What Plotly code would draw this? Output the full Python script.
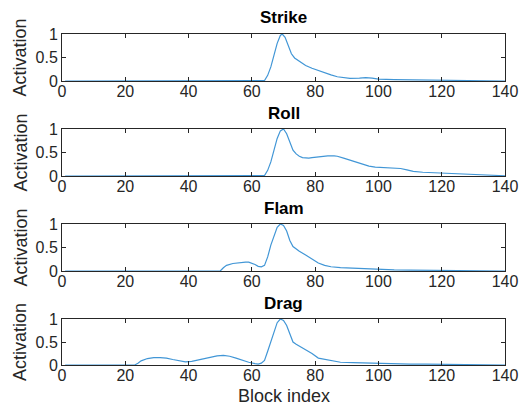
import plotly.graph_objects as go

titles = ["Strike", "Roll", "Flam", "Drag"]

strike_x = [1, 63, 64, 65, 66, 67, 68, 69, 69.6, 70.5, 71.5, 72.5, 73.5, 75, 77, 79, 81, 83, 85, 87, 89, 91, 94, 96, 98, 100, 105, 110, 115, 120, 125, 130, 135, 140]
strike_y = [0, 0, 0.01, 0.12, 0.3, 0.55, 0.8, 0.97, 1.0, 0.93, 0.74, 0.58, 0.49, 0.42, 0.33, 0.27, 0.22, 0.18, 0.13, 0.09, 0.065, 0.055, 0.06, 0.07, 0.06, 0.04, 0.03, 0.025, 0.02, 0.015, 0.01, 0.005, 0.003, 0]

roll_x = [1, 63, 64, 65, 66, 67, 68, 69, 70, 71, 72, 73, 74, 75, 76, 77, 78, 79, 80, 82, 84, 86, 87, 89, 91, 93, 95, 97, 99, 101, 103, 105, 107, 109, 111, 114, 117, 120, 123, 126, 129, 132, 135, 138, 140]
roll_y = [0, 0, 0.01, 0.12, 0.3, 0.55, 0.8, 0.96, 1.0, 0.9, 0.72, 0.55, 0.47, 0.42, 0.39, 0.38, 0.38, 0.39, 0.4, 0.42, 0.43, 0.43, 0.42, 0.38, 0.34, 0.29, 0.25, 0.21, 0.19, 0.18, 0.18, 0.17, 0.16, 0.13, 0.1, 0.08, 0.07, 0.065, 0.05, 0.04, 0.03, 0.02, 0.015, 0.01, 0.005]

flam_x = [1, 50, 51, 52, 54, 56, 58, 59, 60, 61, 62, 63, 64, 65, 66, 67, 68, 69, 70, 71, 72, 73, 74, 75, 77, 79, 81, 83, 85, 88, 91, 95, 100, 105, 110, 115, 120, 130, 140]
flam_y = [0, 0, 0.07, 0.12, 0.16, 0.18, 0.19, 0.19, 0.17, 0.14, 0.1, 0.09, 0.12, 0.3, 0.55, 0.75, 0.93, 1.0, 0.97, 0.85, 0.65, 0.52, 0.46, 0.42, 0.34, 0.25, 0.17, 0.12, 0.09, 0.07, 0.06, 0.05, 0.035, 0.025, 0.02, 0.015, 0.01, 0.005, 0]

drag_x = [1, 23, 24, 25, 27, 29, 31, 33, 35, 37, 39, 41, 43, 45, 47, 49, 51, 53, 55, 57, 59, 61, 62, 63, 64, 65, 66, 67, 68, 69, 70, 71, 72, 73, 74, 75, 77, 79, 81, 83, 85, 88, 92, 96, 100, 105, 110, 115, 120, 124, 127, 140]
drag_y = [0, 0, 0.04, 0.09, 0.14, 0.16, 0.16, 0.15, 0.12, 0.09, 0.07, 0.08, 0.11, 0.15, 0.17, 0.2, 0.21, 0.19, 0.15, 0.1, 0.06, 0.03, 0.02, 0.04, 0.1, 0.3, 0.52, 0.75, 0.92, 1.0, 0.97, 0.86, 0.66, 0.5, 0.45, 0.41, 0.34, 0.25, 0.15, 0.12, 0.09, 0.06, 0.05, 0.04, 0.03, 0.025, 0.02, 0.02, 0.015, 0.005, 0, 0]

xs = [strike_x, roll_x, flam_x, drag_x]
ys = [strike_y, roll_y, flam_y, drag_y]

x_ticks = [0, 20, 40, 60, 80, 100, 120, 140]
y_ticks = [0, 0.5, 1]
y_ticktext = ["0", "0.5", "1"]

W, H = 521, 405
left_px, right_px = 62, 505
tops = [34, 129, 224, 319]
bottoms = [81, 176, 271, 365]
title_y = [18, 113, 208, 303]

FONT = "Liberation Sans, Arial, Helvetica, sans-serif"
AX = "#262626"
LINE = "#4196d6"

fig = go.Figure()
layout = dict(
    width=W, height=H,
    margin=dict(l=0, r=0, t=0, b=0, autoexpand=False),
    paper_bgcolor="white", plot_bgcolor="white",
    showlegend=False,
    font=dict(family=FONT, color=AX, size=16),
    annotations=[],
)

for i in range(4):
    n = "" if i == 0 else str(i + 1)
    fig.add_trace(go.Scatter(x=xs[i], y=ys[i], mode="lines",
                             line=dict(color=LINE, width=1.2),
                             xaxis="x" + n, yaxis="y" + n, hoverinfo="skip"))
    layout["xaxis" + n] = dict(
        domain=[left_px / W, right_px / W], range=[0, 140],
        anchor="y" + n, tickvals=x_ticks, ticks="inside", ticklen=4,
        tickcolor=AX, showline=True, linecolor=AX, linewidth=1,
        mirror="ticks", showgrid=False, zeroline=False, automargin=False,
        ticklabelstandoff=-4,
        tickfont=dict(size=16, color=AX, family=FONT),
    )
    layout["yaxis" + n] = dict(
        domain=[1 - bottoms[i] / H, 1 - tops[i] / H], range=[0, 1],
        anchor="x" + n, tickvals=y_ticks, ticktext=y_ticktext,
        ticks="inside", ticklen=4, tickcolor=AX, showline=True,
        linecolor=AX, linewidth=1, mirror="ticks", showgrid=False,
        zeroline=False, automargin=False,
        tickfont=dict(size=16, color=AX, family=FONT),
    )
    layout["annotations"].append(dict(
        text="<b>" + titles[i] + "</b>", xref="paper", yref="paper",
        x=(left_px + right_px) / 2 / W, y=1 - title_y[i] / H,
        xanchor="center", yanchor="middle", showarrow=False,
        font=dict(size=17, color="black", family=FONT),
    ))
    layout["annotations"].append(dict(
        text="Activation", xref="paper", yref="paper",
        x=20 / W, y=1 - (tops[i] + bottoms[i]) / 2 / H,
        xanchor="center", yanchor="middle", textangle=-90, showarrow=False,
        font=dict(size=18, color=AX, family=FONT),
    ))

layout["annotations"].append(dict(
    text="Block index", xref="paper", yref="paper",
    x=(left_px + right_px) / 2 / W, y=1 - 396 / H,
    xanchor="center", yanchor="middle", showarrow=False,
    font=dict(size=18, color=AX, family=FONT),
))

fig.update_layout(**layout)
fig.write_html(
    "out.html",
    config={"responsive": False, "displayModeBar": False},
    post_script="document.body.style.margin='0';document.body.style.overflow='hidden';",
)
